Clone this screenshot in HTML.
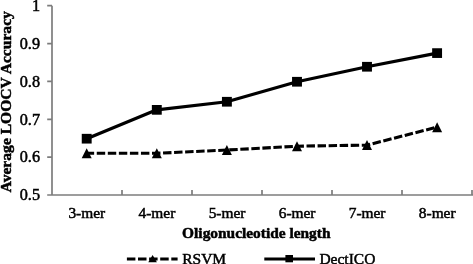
<!DOCTYPE html>
<html><head><meta charset="utf-8">
<style>
html,body{margin:0;padding:0;background:#fff;}
body{width:473px;height:264px;overflow:hidden;}
svg{display:block;}
text{font-family:"Liberation Serif","Times New Roman",serif;fill:#000;stroke:#000;stroke-width:0.5px;}
</style></head><body>
<svg width="473" height="264" viewBox="0 0 473 264">
<rect width="473" height="264" fill="#fff"/>
<g stroke="#7c7c7c" stroke-width="1.7" fill="none">
<path d="M52 5.7 V195"/>
<path d="M47.2 195 H473"/>
<path d="M47.2 5.70 H52 M47.2 43.55 H52 M47.2 81.40 H52 M47.2 119.30 H52 M47.2 157.15 H52"/>
<path d="M122.0 195 V189.9 M192.0 195 V189.9 M262.0 195 V189.9 M332.0 195 V189.9 M402.0 195 V189.9 M472.0 195 V189.9"/>
</g>
<g font-size="16.2" text-anchor="end">
<text x="40" y="10.90">1</text>
<text x="40" y="48.75">0.9</text>
<text x="40" y="86.60">0.8</text>
<text x="40" y="124.50">0.7</text>
<text x="40" y="162.35">0.6</text>
<text x="40" y="200.20">0.5</text>
</g>
<g font-size="15.4" text-anchor="middle">
<text x="86.8" y="218.2">3-mer</text>
<text x="156.9" y="218.2">4-mer</text>
<text x="227.0" y="218.2">5-mer</text>
<text x="297.1" y="218.2">6-mer</text>
<text x="367.1" y="218.2">7-mer</text>
<text x="437.2" y="218.2">8-mer</text>
</g>
<text x="256.3" y="238.3" font-size="15.4" font-weight="bold" text-anchor="middle">Oligonucleotide length</text>
<text transform="translate(11,101.8) rotate(-90)" font-size="15.6" font-weight="bold" text-anchor="middle">Average LOOCV Accuracy</text>
<polyline points="86.7,138.70 156.8,109.85 226.9,101.75 297.0,81.75 367.0,66.75 437.1,53.10" fill="none" stroke="#000" stroke-width="3.2" stroke-linejoin="round"/>
<g fill="#000">
<rect x="81.75" y="133.85" width="9.9" height="9.7"/>
<rect x="151.85" y="105.00" width="9.9" height="9.7"/>
<rect x="221.95" y="96.90" width="9.9" height="9.7"/>
<rect x="292.05" y="76.90" width="9.9" height="9.7"/>
<rect x="362.05" y="61.90" width="9.9" height="9.7"/>
<rect x="432.15" y="48.25" width="9.9" height="9.7"/>
</g>
<polyline points="86.7,153.20 156.8,153.25 226.9,150.05 297.0,146.20 367.0,145.10 437.1,127.15" fill="none" stroke="#000" stroke-width="3.1" stroke-dasharray="8.45 2.6" stroke-dashoffset="1.0"/>
<g fill="#000">
<path d="M86.70 148.20 l5 10 h-10 z"/>
<path d="M156.80 148.25 l5 10 h-10 z"/>
<path d="M226.90 145.05 l5 10 h-10 z"/>
<path d="M297.00 141.20 l5 10 h-10 z"/>
<path d="M367.00 140.10 l5 10 h-10 z"/>
<path d="M437.10 122.15 l5 10 h-10 z"/>
</g>
<path d="M126.9 258.9 H177.6" stroke="#000" stroke-width="3" stroke-dasharray="8.5 2.6" fill="none"/>
<path d="M152.6 255 l4.3 7.2 h-8.6 z" fill="#000"/>
<text x="182.2" y="264" font-size="15.5">RSVM</text>
<path d="M264.3 258.9 H315" stroke="#000" stroke-width="3" fill="none"/>
<rect x="285.4" y="255" width="7.6" height="7.3" fill="#000"/>
<text x="319.4" y="264" font-size="15.5">DectICO</text>
</svg>
</body></html>
